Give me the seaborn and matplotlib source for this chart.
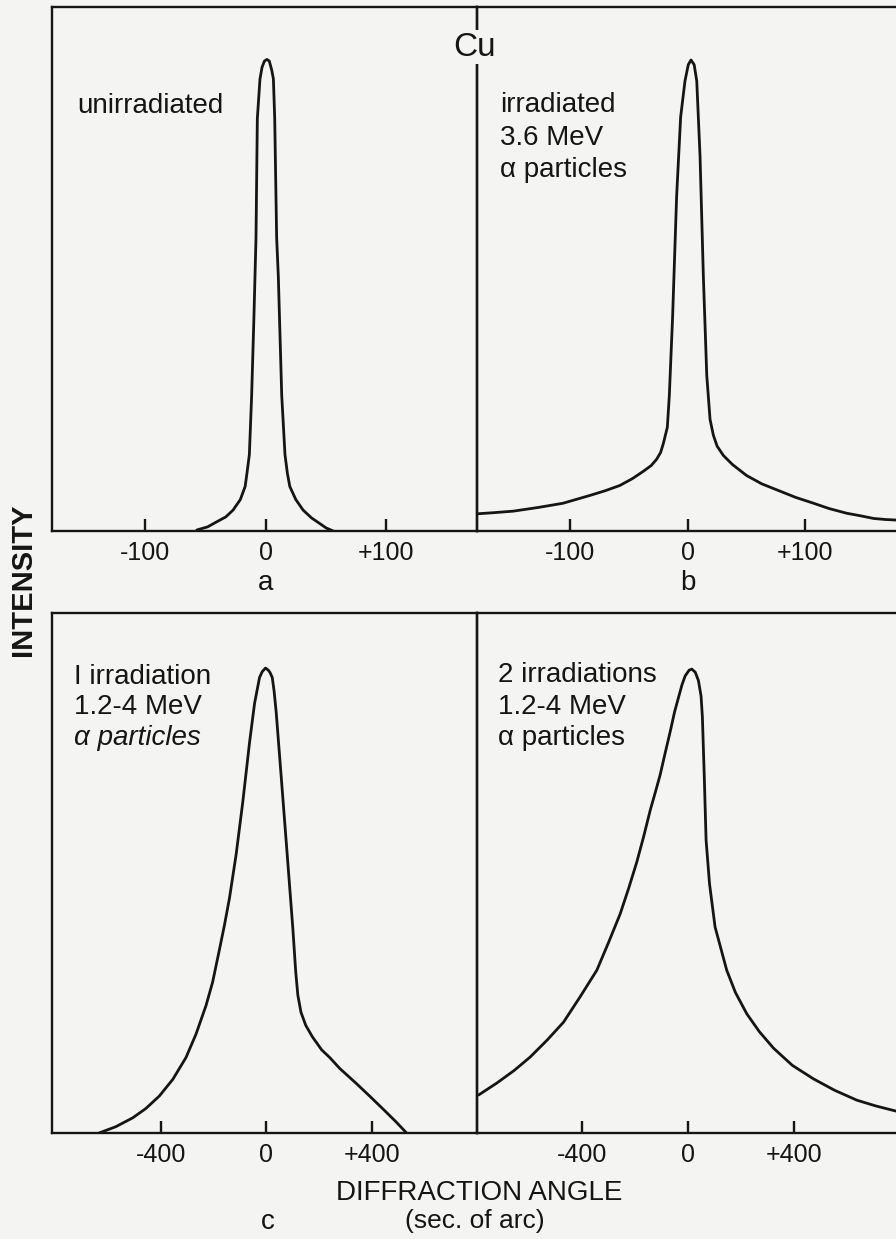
import matplotlib
matplotlib.use('Agg')
import matplotlib.pyplot as plt
import seaborn as sns

sns.set_theme(style='white')
plt.rcParams['font.family'] = ['Liberation Sans', 'DejaVu Sans']

BG = '#f4f4f2'
INK = '#151515'

# curves: angle (sec of arc) and intensity (fraction of panel height)
a_x = [-57, -48, -41, -33, -27, -21, -17, -15.5, -13.5, -11.6, -9.7, -8, -6.9, -4.7, -3, -1, 1, 3, 5,
       6.4, 7.5, 9.1, 10.5, 13.3, 16, 18, 20, 25, 31, 38, 45, 50, 56]
a_y = [0.002, 0.008, 0.017, 0.027, 0.04, 0.06, 0.085, 0.11, 0.146, 0.259, 0.41, 0.56, 0.787, 0.863,
       0.885, 0.897, 0.90, 0.897, 0.88, 0.863, 0.787, 0.56, 0.485, 0.259, 0.146, 0.11, 0.085, 0.06,
       0.04, 0.025, 0.014, 0.006, 0.0]

b_x = [-178, -165, -148, -127, -106, -83, -70, -57.6, -47, -37.7, -31, -26.4, -23, -20.7, -17.3, -15.6,
       -12.8, -9.4, -6, -2.3, 0.5, 2.8, 5.5, 7.7, 10.5, 13.3, 16.2, 19, 21.8, 25, 30.4, 38, 50, 63,
       78.6, 92, 107, 120, 135, 147, 158, 168, 177]
b_y = [0.033, 0.035, 0.038, 0.045, 0.053, 0.068, 0.077, 0.087, 0.10, 0.114, 0.125, 0.137, 0.15, 0.167,
       0.198, 0.259, 0.41, 0.639, 0.79, 0.859, 0.89, 0.899, 0.89, 0.859, 0.715, 0.487, 0.297, 0.213,
       0.183, 0.162, 0.144, 0.127, 0.106, 0.09, 0.076, 0.064, 0.053, 0.043, 0.034, 0.029, 0.024,
       0.022, 0.021]

c_x = [-633, -570, -506, -456, -405, -354, -304, -266, -228, -203, -177, -158, -139, -114, -89, -63,
       -44, -35, -25, -15, -2.5, 8, 15, 23, 30, 38, 57, 76, 101, 112, 120, 132, 150, 175, 210, 241,
       279, 342, 392, 443, 493, 532]
c_y = [0.0, 0.012, 0.029, 0.047, 0.071, 0.103, 0.145, 0.19, 0.245, 0.29, 0.353, 0.40, 0.452, 0.535,
       0.635, 0.751, 0.826, 0.85, 0.876, 0.887, 0.894, 0.89, 0.885, 0.876, 0.85, 0.809, 0.685, 0.56,
       0.394, 0.31, 0.265, 0.232, 0.207, 0.185, 0.16, 0.145, 0.124, 0.095, 0.071, 0.046, 0.021, 0.0]

d_x = [-791, -722, -657, -596, -533, -470, -407, -344, -300, -256, -224, -193, -167, -142, -123, -105,
       -86, -67, -50, -35, -22, -10, 5, 15, 28, 40, 50, 55, 62, 69, 82, 103, 147, 180, 223, 270, 324,
       395, 475, 555, 639, 710, 787]
d_y = [0.073, 0.096, 0.12, 0.146, 0.178, 0.213, 0.262, 0.313, 0.366, 0.421, 0.47, 0.521, 0.57, 0.621,
       0.655, 0.688, 0.73, 0.771, 0.81, 0.838, 0.862, 0.879, 0.89, 0.892, 0.886, 0.87, 0.84, 0.80,
       0.688, 0.563, 0.479, 0.396, 0.313, 0.27, 0.229, 0.195, 0.163, 0.13, 0.104, 0.082, 0.063,
       0.052, 0.042]

top_ticks = [-100, 0, 100]
top_labels = ['-100', '0', '+100']
bot_ticks = [-400, 0, 400]
bot_labels = ['-400', '0', '+400']

a_text = ['unirradiated']
b_text = ['irradiated', '3.6 MeV', 'α particles']
c_text = ['I irradiation', '1.2-4 MeV', 'α particles']
d_text = ['2 irradiations', '1.2-4 MeV', 'α particles']


def style_panel(ax, xlim, ticks, labels, right_spine=True):
    ax.set_facecolor('none')
    ax.set_xlim(*xlim)
    ax.set_ylim(0, 1)
    ax.set_yticks([])
    ax.set_xticks(ticks)
    ax.set_xticklabels(labels)
    ax.tick_params(axis='x', direction='in', length=9, width=1.7, pad=7,
                   labelsize=18, colors=INK, bottom=True)
    for side, sp in ax.spines.items():
        sp.set_color(INK)
        sp.set_linewidth(1.7)
    ax.spines['right'].set_visible(right_spine)
    ax.set_xlabel('')
    ax.set_ylabel('')


def add_lines(ax, x0, baselines, lines, italic_last=False):
    for i, (yb, s) in enumerate(zip(baselines, lines)):
        st = 'italic' if (italic_last and i == len(lines) - 1) else 'normal'
        ax.text(x0, yb, s, transform=ax.transAxes, fontsize=20, color=INK,
                va='baseline', ha='left', fontstyle=st)


fig = plt.figure(figsize=(8.96, 12.39), dpi=100, facecolor=BG)

ax_a = fig.add_axes([0.058, 0.5714, 0.4743, 0.4229])
ax_b = fig.add_axes([0.5324, 0.5714, 0.4676, 0.4229])
ax_c = fig.add_axes([0.058, 0.0856, 0.4743, 0.4197])
ax_d = fig.add_axes([0.5324, 0.0856, 0.4676, 0.4197])

sns.lineplot(x=a_x, y=a_y, ax=ax_a, color=INK, linewidth=2.0)
sns.lineplot(x=b_x, y=b_y, ax=ax_b, color=INK, linewidth=2.0)
sns.lineplot(x=c_x, y=c_y, ax=ax_c, color=INK, linewidth=2.0)
sns.lineplot(x=d_x, y=d_y, ax=ax_d, color=INK, linewidth=2.0)

style_panel(ax_a, (-177, 175), top_ticks, top_labels)
style_panel(ax_b, (-179, 177), top_ticks, top_labels, right_spine=False)
style_panel(ax_c, (-812, 799), bot_ticks, bot_labels)
style_panel(ax_d, (-797, 787), bot_ticks, bot_labels, right_spine=False)

add_lines(ax_a, 0.059, [0.798], a_text)
add_lines(ax_b, 0.055, [0.80, 0.737, 0.676], b_text)
add_lines(ax_c, 0.052, [0.863, 0.806, 0.746], c_text, italic_last=True)
add_lines(ax_d, 0.050, [0.867, 0.806, 0.746], d_text)

# figure-level labels
fig.text(475 / 896, 1 - 47 / 1239, 'Cu', fontsize=24, color=INK, ha='center', va='center',
         bbox=dict(facecolor=BG, edgecolor='none', pad=1))
fig.text(266 / 896, 1 - 583 / 1239, 'a', fontsize=20, color=INK, ha='center', va='center')
fig.text(688 / 896, 1 - 583 / 1239, 'b', fontsize=20, color=INK, ha='center', va='center')
fig.text(268 / 896, 1 - 1222 / 1239, 'c', fontsize=20, color=INK, ha='center', va='center')
fig.text(479 / 896, 1 - 1193 / 1239, 'DIFFRACTION ANGLE', fontsize=20, color=INK,
         ha='center', va='center')
fig.text(475 / 896, 1 - 1221 / 1239, '(sec. of arc)', fontsize=19, color=INK,
         ha='center', va='center')
fig.text(23 / 896, 1 - 580 / 1239, 'INTENSITY', fontsize=21, fontweight='bold', color=INK,
         rotation=90, ha='center', va='center')

fig.savefig('out.png', dpi=100, facecolor=BG)
